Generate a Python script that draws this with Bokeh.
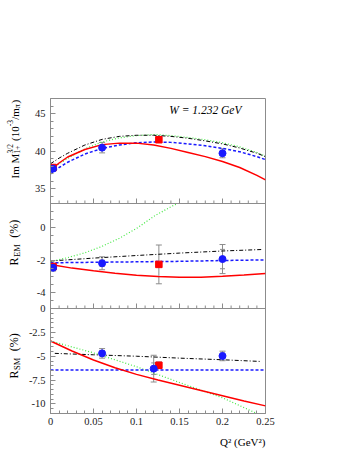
import math
from bokeh.plotting import figure
from bokeh.layouts import row
from bokeh.models import (Range1d, FixedTicker, Label, Whisker, ColumnDataSource,
                          TeeHead, Span, Title)
from bokeh.core.properties import value
from bokeh.embed import file_html
from bokeh.resources import INLINE

# ------------------------------------------------------------------ data
q_ticks = [0, 0.05, 0.10, 0.15, 0.20, 0.25]
q_tick_labels = ["0", "0.05", "0.1", "0.15", "0.2", "0.25"]
q_minor = [0.01, 0.02, 0.03, 0.04, 0.06, 0.07, 0.08, 0.09, 0.11, 0.12, 0.13, 0.14,
           0.16, 0.17, 0.18, 0.19, 0.21, 0.22, 0.23, 0.24]

# panel 1: Im M1+ 3/2
im_range = (33, 47)
im_ticks = [35, 40, 45]
im_tick_labels = ["35", "40", "45"]
im_minor = [33, 34, 36, 37, 38, 39, 41, 42, 43, 44, 46, 47]
im_q = [0, 0.01, 0.02, 0.04, 0.06, 0.08, 0.10, 0.12, 0.14, 0.16, 0.18, 0.20, 0.22, 0.24, 0.25]
im_red = [37.4, 38.4, 39.2, 40.2, 40.85, 41.05, 41.05, 40.8, 40.35, 39.8, 39.25, 38.6, 37.8, 36.75, 36.15]
im_blue = [36.95, 37.8, 38.5, 39.6, 40.35, 40.8, 41.1, 41.2, 41.15, 40.95, 40.7, 40.35, 39.9, 39.25, 38.85]
im_black = [38.3, 39.05, 39.7, 40.8, 41.55, 41.95, 42.1, 42.1, 41.95, 41.7, 41.35, 40.95, 40.4, 39.7, 39.25]
im_green = [37.5, 38.3, 39.0, 40.3, 41.2, 41.75, 42.05, 42.2, 42.05, 41.8, 41.5, 41.1, 40.55, 39.8, 39.3]
im_pts_blue_q = [0.003, 0.06, 0.20]
im_pts_blue = [37.65, 40.45, 39.7]
im_pts_blue_err = [0.3, 0.7, 0.6]
im_pts_red_q = [0.003, 0.126]
im_pts_red = [37.8, 41.5]
im_pts_red_err = [0.3, 0.3]

# panel 2: R_EM
em_range = (-5, 1.5)
em_ticks = [-4, -2, 0]
em_tick_labels = ["-4", "-2", "0"]
em_minor = [-5, -4.5, -3.5, -3, -2.5, -1.5, -1, -0.5, 0.5, 1, 1.5]
em_q = [0, 0.025, 0.05, 0.075, 0.10, 0.125, 0.15, 0.175, 0.20, 0.225, 0.25]
em_red = [-2.27, -2.5, -2.67, -2.82, -2.94, -3.02, -3.06, -3.06, -3.0, -2.93, -2.83]
em_blue = [-2.17, -2.155, -2.14, -2.125, -2.11, -2.095, -2.08, -2.055, -2.03, -2.01, -1.99]
em_black_q = [0, 0.05, 0.10, 0.15, 0.20, 0.245]
em_black = [-2.06, -1.88, -1.72, -1.57, -1.44, -1.35]
em_green_q = [0, 0.02, 0.04, 0.06, 0.08, 0.10, 0.12, 0.14, 0.148]
em_green = [-2.1, -1.85, -1.55, -1.15, -0.65, -0.05, 0.7, 1.3, 1.5]
em_pts_blue_q = [0.003, 0.06, 0.20]
em_pts_blue = [-2.48, -2.2, -1.94]
em_pts_blue_err = [0.2, 0.4, 0.9]
em_pts_blue_stat = [0.1, 0.2, 0.6]
em_pts_red_q = [0.003, 0.126]
em_pts_red = [-2.4, -2.27]
em_pts_red_err = [0.2, 1.2]

# panel 3: R_SM
sm_range = (-11, 0)
sm_ticks = [-10, -7.5, -5, -2.5, 0]
sm_tick_labels = ["-10", "-7.5", "-5", "-2.5", "0"]
sm_minor = [-11, -10.5, -9.5, -9, -8.5, -8, -7, -6.5, -6, -5.5, -4.5, -4, -3.5, -3,
            -2, -1.5, -1, -0.5]
sm_q = [0, 0.025, 0.05, 0.075, 0.10, 0.125, 0.15, 0.175, 0.20, 0.225, 0.25]
sm_red = [-3.4, -4.45, -5.4, -6.2, -6.9, -7.5, -8.05, -8.6, -9.15, -9.7, -10.2]
sm_green_q = [0, 0.05, 0.10, 0.15, 0.20, 0.24]
sm_green = [-3.4, -4.65, -6.1, -7.75, -9.35, -11.0]
sm_blue_q = [0, 0.25]
sm_blue = [-6.45, -6.45]
sm_black_q = [0.005, 0.05, 0.10, 0.15, 0.20, 0.245]
sm_black = [-4.7, -4.85, -5.0, -5.2, -5.37, -5.55]
sm_pts_blue_q = [0.06, 0.12, 0.20]
sm_pts_blue = [-4.7, -6.3, -4.97]
sm_pts_blue_err = [0.5, 1.4, 0.5]
sm_pts_blue_stat = [0.3, 0.6, 0.3]
sm_pts_red_q = [0.126]
sm_pts_red = [-5.95]
sm_pts_red_err = [0.35]

# axis titles (rich text pieces: text, style)
im_title = [(["Im M"], ["n"]), (["1+", "3/2"], ["sub", "sup"]), ([" (10"], ["n"]),
            (["-3"], ["sup"]), (["/m"], ["n"]), (["π"], ["sub"]), ([")"], ["n"])]
em_title = [(["R"], ["n"]), (["EM"], ["sub"]), (["  (%)"], ["n"])]
sm_title = [(["R"], ["n"]), (["SM"], ["sub"]), (["  (%)"], ["n"])]
x_title = "Q² (GeV²)"
w_text = "W = 1.232 GeV"

# ------------------------------------------------------------------ styling
AX = "#8c8c8c"
ERR = "#8c8c8c"
FONT = "Liberation Serif"
FRAME_W, PANEL_H = 215, 105
LEFT_W = 24          # width of the strip holding the y titles
TOP = 98
FRAME_H = 3 * PANEL_H
RED, BLUE, BLACK, GREEN = "#ff0000", "#1a1aff", "#000000", "#44e844"

panels = {"im": (im_range, 2), "em": (em_range, 1), "sm": (sm_range, 0)}


def to_main(v, name):
    (lo, hi), k = panels[name]
    pos = k + (v - lo) / (hi - lo)
    return int(pos) if float(pos).is_integer() else pos


def full_range(name):
    (lo, hi), k = panels[name]
    span = hi - lo
    return Range1d(lo - k * span, hi + (2 - k) * span)


p = figure(x_range=Range1d(0, 0.25), y_range=Range1d(0, 3),
           frame_width=FRAME_W, frame_height=FRAME_H,
           min_border_left=50 - LEFT_W, min_border_right=14, min_border_top=TOP,
           min_border_bottom=44, output_backend="svg", toolbar_location=None)
p.extra_y_ranges = {n: full_range(n) for n in panels}
p.grid.visible = False
p.outline_line_color = AX
p.outline_line_width = 1
p.background_fill_color = "white"
p.border_fill_color = "white"

# y axis: one axis carrying the ticks of the three stacked panels
yt, ymin, yover = [], [], {}
for name, ticks, labels, minors in [("im", im_ticks, im_tick_labels, im_minor),
                                    ("em", em_ticks, em_tick_labels, em_minor),
                                    ("sm", sm_ticks, sm_tick_labels, sm_minor)]:
    for tk, l in zip(ticks, labels):
        pos = to_main(tk, name)
        yt.append(pos)
        yover[pos] = l
    ymin += [to_main(m, name) for m in minors]
ya = p.yaxis[0]
ya.ticker = FixedTicker(ticks=yt, minor_ticks=ymin)
ya.major_label_overrides = yover

xa = p.xaxis[0]
xa.ticker = FixedTicker(ticks=q_ticks, minor_ticks=q_minor)
xa.major_label_overrides = {tk: l for tk, l in zip(q_ticks, q_tick_labels)}

for ax in (xa, ya):
    ax.axis_line_color = AX
    ax.major_tick_line_color = AX
    ax.minor_tick_line_color = AX
    ax.major_tick_in = 5
    ax.major_tick_out = 0
    ax.minor_tick_in = 3
    ax.minor_tick_out = 0
    ax.major_label_text_font = FONT
    ax.major_label_text_font_size = "10.5px"
    ax.major_label_text_color = "#1a1a1a"
ya.major_label_standoff = 5
xa.major_label_standoff = 4

# panel separators and their inner q ticks
for b in (1, 2):
    p.add_layout(Span(location=b, dimension="width", line_color=AX, line_width=1))
    p.segment(x0=q_ticks, x1=q_ticks, y0=[b] * len(q_ticks), y1=[b + 5 / PANEL_H] * len(q_ticks),
              line_color=AX, line_width=1)
    p.segment(x0=q_minor, x1=q_minor, y0=[b] * len(q_minor), y1=[b + 3 / PANEL_H] * len(q_minor),
              line_color=AX, line_width=1)


def curves(name, specs):
    for q, v, color, dash, w in specs:
        p.line(q, v, y_range_name=name, line_color=color, line_dash=dash, line_width=w)


def errbars(name, q, v, e, cap=6):
    src = ColumnDataSource(dict(base=q, lower=[a - b for a, b in zip(v, e)],
                                upper=[a + b for a, b in zip(v, e)]))
    p.add_layout(Whisker(source=src, base="base", lower="lower", upper="upper",
                         dimension="height", y_range_name=name, line_color=ERR, line_width=1,
                         upper_head=TeeHead(size=cap, line_color=ERR, line_width=1),
                         lower_head=TeeHead(size=cap, line_color=ERR, line_width=1)))


def points(name, q, v, marker, color, size):
    p.scatter(q, v, y_range_name=name, marker=marker, size=size,
              fill_color=color, line_color=color)


curves("im", [(im_q, im_green, GREEN, "1 2", 1.2), (im_q, im_black, BLACK, "4 2 1 2", 1),
              (im_q, im_blue, BLUE, "3 2", 1.5), (im_q, im_red, RED, "solid", 1.5)])
curves("em", [(em_green_q, em_green, GREEN, "1 2", 1.2), (em_black_q, em_black, BLACK, "4 2 1 2", 1),
              (em_q, em_blue, BLUE, "3 2", 1.5), (em_q, em_red, RED, "solid", 1.5)])
curves("sm", [(sm_green_q, sm_green, GREEN, "1 2", 1.2), (sm_black_q, sm_black, BLACK, "4 2 1 2", 1),
              (sm_blue_q, sm_blue, BLUE, "3 2", 1.5), (sm_q, sm_red, RED, "solid", 1.5)])

errbars("im", im_pts_red_q, im_pts_red, im_pts_red_err)
errbars("im", im_pts_blue_q, im_pts_blue, im_pts_blue_err)
errbars("em", em_pts_red_q, em_pts_red, em_pts_red_err)
errbars("em", em_pts_blue_q, em_pts_blue, em_pts_blue_err)
errbars("em", em_pts_blue_q, em_pts_blue, em_pts_blue_stat, cap=5)
errbars("sm", sm_pts_red_q, sm_pts_red, sm_pts_red_err)
errbars("sm", sm_pts_blue_q, sm_pts_blue, sm_pts_blue_err)
errbars("sm", sm_pts_blue_q, sm_pts_blue, sm_pts_blue_stat, cap=5)

points("im", im_pts_red_q, im_pts_red, "square", RED, 6.5)
points("im", im_pts_blue_q, im_pts_blue, "circle", BLUE, 7)
points("em", em_pts_red_q, em_pts_red, "square", RED, 6.5)
points("em", em_pts_blue_q, em_pts_blue, "circle", BLUE, 7)
points("sm", sm_pts_red_q, sm_pts_red, "square", RED, 6.5)
points("sm", sm_pts_blue_q, sm_pts_blue, "circle", BLUE, 7)

p.add_layout(Label(x=0.25, y=3, x_offset=-24, y_offset=-11, text=w_text,
                   text_align="right", text_baseline="middle", text_font=FONT,
                   text_font_style="italic", text_font_size="11.5px", text_color="black"))
p.add_layout(Title(text=x_title, align="right", text_font=FONT, text_font_size="11px",
                   text_font_style="normal", text_color="black", standoff=12), "below")

# ------------------------------------------------------------------ y titles strip
# The row aligns this strip's frame with the main frame (page y TOP .. TOP+FRAME_H),
# so strip data y = (TOP + FRAME_H) - page_y.
t = figure(frame_width=LEFT_W, frame_height=FRAME_H,
           x_range=Range1d(0, LEFT_W), y_range=Range1d(0, FRAME_H),
           min_border=0, min_border_top=TOP, min_border_bottom=44,
           x_axis_type=None, y_axis_type=None,
           output_backend="svg", toolbar_location=None)
t.grid.visible = False
t.outline_line_color = None
t.background_fill_color = "white"
t.border_fill_color = "white"

CW = {'I': .333, 'm': .778, ' ': .25, 'M': .889, '1': .5, '+': .564, '3': .5, '/': .278,
      '2': .5, '(': .333, '0': .5, ')': .333, '-': .333, 'π': .55, 'R': .667, 'E': .611,
      'S': .556, '%': .833}


def width(s, fs):
    return sum(CW.get(c, .5) for c in s) * fs


def vlabel(pieces, x_page, y_page, main_fs, scr_fs, gap):
    pos = y_page
    for texts, kinds in pieces:
        adv = 0
        for s, k in zip(texts, kinds):
            fs = main_fs if k == "n" else scr_fs
            lead = (len(s) - len(s.lstrip(" "))) * CW[' '] * fs
            body = s.lstrip(" ")
            dx = {"n": 0, "sup": -0.38 * main_fs, "sub": 0.25 * main_fs}[k]
            t.text(x=[x_page + dx], y=[TOP + FRAME_H - (pos - lead)], text=[body],
                   angle=math.pi / 2, text_align="left", text_baseline="middle",
                   text_font=value(FONT), text_font_size=value(f"{fs}px"), text_color="black")
            adv = max(adv, lead + width(body, fs))
        pos -= adv + gap


vlabel(im_title, 14, 178, 11, 7.5, 0.2)
vlabel(em_title, 13, 265, 12, 8.5, 0.5)
vlabel(sm_title, 13, 378, 12, 8.5, 0.5)

layout = row(t, p, spacing=0)
open("out.html", "w").write(file_html(layout, INLINE))
